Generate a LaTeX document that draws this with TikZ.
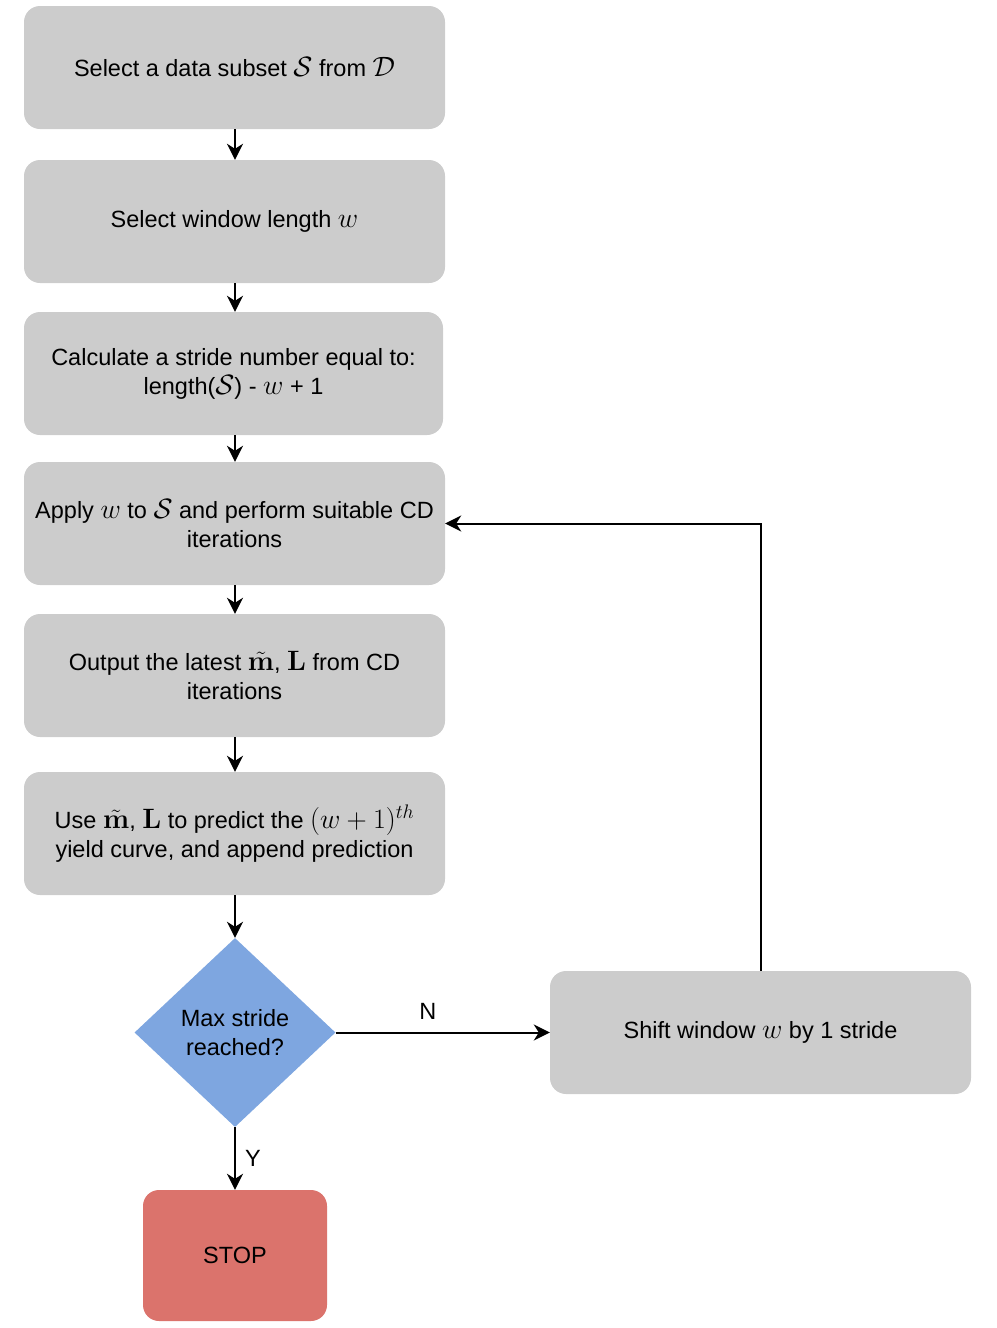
\RequirePackage{fix-cm}
\documentclass[tikz,border=0pt]{standalone}
\usepackage[no-math]{fontspec}
\setmainfont{Liberation Sans}
\usetikzlibrary{shapes.geometric,arrows.meta}
\definecolor{boxgrey}{HTML}{CCCCCC}
\definecolor{decblue}{HTML}{7EA6E0}
\definecolor{stopred}{HTML}{DB736C}
\newcommand{\mymath}[1]{{\fontsize{28}{29}\selectfont$#1$}}
\begin{document}
\begin{tikzpicture}[x=1pt,y=1pt,
  every node/.style={font=\fontsize{23.5}{29}\selectfont, align=center},
  box/.style={rectangle, rounded corners=16pt, fill=boxgrey, draw=none,
     minimum width=421pt, minimum height=123pt, inner sep=0pt},
  dec/.style={diamond, fill=decblue, draw=none, minimum width=201pt,
     minimum height=189pt, inner sep=0pt},
  stopbox/.style={rectangle, rounded corners=16pt, fill=stopred, draw=none,
     minimum width=184pt, minimum height=131pt, inner sep=0pt},
  conn/.style={line width=2pt, -{Stealth[length=16pt,width=16pt,inset=5pt]}},
  lbl/.style={font=\fontsize{23.5}{29}\selectfont, inner sep=0pt}
]
\useasboundingbox (0,0) rectangle (996,-1328);
\node[box] (b1) at (234.5,-67.5) {Select a data subset \mymath{\mathcal{S}} from \mymath{\mathcal{D}}};
\node[box] (b2) at (234.5,-221.5) {Select window length \mymath{w}};
\node[box, minimum width=419pt] (b3) at (233.5,-373.5) {Calculate a stride number equal to:\\ length(\mymath{\mathcal{S}}) - \mymath{w} + 1};
\node[box] (b4) at (234.5,-523.5) {Apply \mymath{w} to \mymath{\mathcal{S}} and perform suitable CD\\ iterations};
\node[box] (b5) at (234.5,-675.5) {Output the latest \mymath{\tilde{\mathbf{m}}}, \mymath{\mathbf{L}} from CD\\ iterations};
\node[box] (b6) at (234.5,-833.5) {Use \mymath{\tilde{\mathbf{m}}}, \mymath{\mathbf{L}} to predict the \mymath{(w+1)^{th}}\\ yield curve, and append prediction};
\node[dec] (d) at (235,-1032.5) {Max stride\\ reached?};
\node[box] (sh) at (760.5,-1032.5) {Shift window \mymath{w} by 1 stride};
\node[stopbox] (stop) at (235,-1255.5) {STOP};

\draw[conn] (b1.south -| 235,0) -- (b2.north -| 235,0);
\draw[conn] (b2.south -| 235,0) -- (b3.north -| 235,0);
\draw[conn] (b3.south -| 235,0) -- (b4.north -| 235,0);
\draw[conn] (b4.south -| 235,0) -- (b5.north -| 235,0);
\draw[conn] (b5.south -| 235,0) -- (b6.north -| 235,0);
\draw[conn] (b6.south -| 235,0) -- (d.north);
\draw[conn] (d.east) -- node[lbl, pos=0.43, above=12pt] {N} (sh.west);
\draw[conn] (d.south) -- node[lbl, midway, right=9pt] {Y} (stop.north);
\draw[conn] (sh.north) |- (b4.east);
\end{tikzpicture}
\end{document}
